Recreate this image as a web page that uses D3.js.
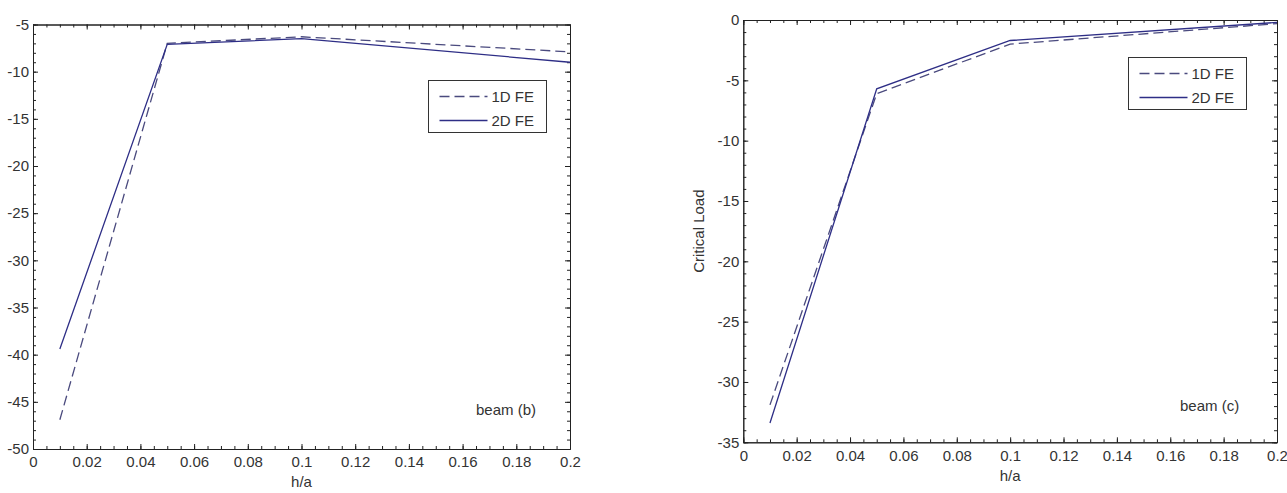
<!DOCTYPE html>
<html>
<head>
<meta charset="utf-8">
<script src="https://cdn.jsdelivr.net/npm/d3@7"></script>
<style>
  body { margin: 0; background: #fff; }
  svg { display: block; }
  .axis text { font-family: "Liberation Sans", Arial, sans-serif; font-size: 15px; fill: #333; }
  .axis .domain, .axis line { stroke: #222; }
  .lbl { font-family: "Liberation Sans", Arial, sans-serif; font-size: 15px; fill: #333; }
</style>
</head>
<body>
<div id="chart"></div>
<script>
// h/a values
const hOverA = [0.01, 0.05, 0.1, 0.2];
// beam (b)
const beamB1D = [-46.9, -7.0, -6.3, -7.9];
const beamB2D = [-39.4, -7.1, -6.5, -9.0];
// beam (c)
const beamC1D = [-31.9, -6.1, -2.0, -0.3];
const beamC2D = [-33.4, -5.7, -1.7, -0.2];

const xTicks = [0, 0.02, 0.04, 0.06, 0.08, 0.1, 0.12, 0.14, 0.16, 0.18, 0.2];
const bTicks = [-5, -10, -15, -20, -25, -30, -35, -40, -45, -50];
const cTicks = [0, -5, -10, -15, -20, -25, -30, -35];
const seriesNames = ["1D FE", "2D FE"];

const W = 1287, H = 493;
const svg = d3.select("#chart").append("svg").attr("width", W).attr("height", H);

const fmtX = d => String(+d.toFixed(2));
const fmtY = d => String(d);

function panel(cfg) {
  const x = d3.scaleLinear().domain([0, 0.2]).range([cfg.left, cfg.right]);
  const y = d3.scaleLinear().domain(cfg.yDomain).range([cfg.bottom, cfg.top]);
  const g = svg.append("g");

  const xMinor = d3.range(0, 0.2001, 0.005);
  const yMinor = d3.range(cfg.yDomain[0], cfg.yDomain[1] + 0.001, 1);

  // minor ticks on all four sides
  const minor = [
    [d3.axisBottom(x).tickValues(xMinor), `translate(0,${cfg.bottom})`],
    [d3.axisTop(x).tickValues(xMinor), `translate(0,${cfg.top})`],
    [d3.axisLeft(y).tickValues(yMinor), `translate(${cfg.left},0)`],
    [d3.axisRight(y).tickValues(yMinor), `translate(${cfg.right},0)`]
  ];
  minor.forEach(([ax, tr]) => {
    g.append("g").attr("class", "axis").attr("transform", tr)
      .call(ax.tickSize(-3).tickSizeOuter(0).tickFormat(""));
  });

  // major ticks + labels
  g.append("g").attr("class", "axis").attr("transform", `translate(0,${cfg.bottom})`)
    .call(d3.axisBottom(x).tickValues(xTicks).tickSize(-5).tickSizeOuter(0).tickPadding(cfg.xPad).tickFormat(fmtX));
  g.append("g").attr("class", "axis").attr("transform", `translate(0,${cfg.top})`)
    .call(d3.axisTop(x).tickValues(xTicks).tickSize(-5).tickSizeOuter(0).tickFormat(""));
  g.append("g").attr("class", "axis").attr("transform", `translate(${cfg.left},0)`)
    .call(d3.axisLeft(y).tickValues(cfg.yTicks).tickSize(-5).tickSizeOuter(0).tickPadding(4).tickFormat(fmtY));
  g.append("g").attr("class", "axis").attr("transform", `translate(${cfg.right},0)`)
    .call(d3.axisRight(y).tickValues(cfg.yTicks).tickSize(-5).tickSizeOuter(0).tickFormat(""));

  g.selectAll(".axis text").attr("font-size", null).attr("font-family", null);

  const line = d3.line().x((d, i) => x(hOverA[i])).y(d => y(d));

  g.append("path").datum(cfg.s1)
    .attr("d", line).attr("fill", "none")
    .attr("stroke", "#4a4a7e").attr("stroke-width", 1.3).attr("stroke-dasharray", "10,5");
  g.append("path").datum(cfg.s2)
    .attr("d", line).attr("fill", "none")
    .attr("stroke", "#2e2e86").attr("stroke-width", 1.3);

  // legend
  const lg = g.append("g").attr("transform", `translate(${cfg.legX},${cfg.legY})`);
  lg.append("rect").attr("width", 118).attr("height", 52)
    .attr("fill", "#fff").attr("stroke", "#333").attr("stroke-width", 1);
  seriesNames.forEach((name, i) => {
    const yy = 16 + i * 24;
    lg.append("line").attr("x1", 11).attr("x2", 59).attr("y1", yy).attr("y2", yy)
      .attr("stroke", i === 0 ? "#4a4a7e" : "#2e2e86").attr("stroke-width", 1.3)
      .attr("stroke-dasharray", i === 0 ? "10,5" : null);
    lg.append("text").attr("class", "lbl").attr("x", 63).attr("y", yy).attr("dy", "0.35em").text(name);
  });

  // annotation
  g.append("text").attr("class", "lbl").attr("x", cfg.noteX).attr("y", cfg.noteY)
    .attr("dy", "0.35em").text(cfg.note);

  // axis labels
  g.append("text").attr("class", "lbl").attr("text-anchor", "middle")
    .attr("x", (cfg.left + cfg.right) / 2).attr("y", cfg.xLabelY).attr("dy", "0.35em").text("h/a");
  g.append("text").attr("class", "lbl").attr("text-anchor", "middle")
    .attr("transform", `translate(${cfg.yLabelX},${(cfg.top + cfg.bottom) / 2}) rotate(-90)`)
    .text("Critical Load");
}

panel({
  left: 33, right: 570, top: 24.5, bottom: 449,
  yDomain: [-50, -5], yTicks: bTicks, xPad: 7,
  s1: beamB1D, s2: beamB2D,
  legX: 428.5, legY: 80.5,
  note: "beam (b)", noteX: 476, noteY: 410,
  xLabelY: 482, yLabelX: -1
});

panel({
  left: 743.3, right: 1277, top: 20, bottom: 442.3,
  yDomain: [-35, 0], yTicks: cTicks, xPad: 8,
  s1: beamC1D, s2: beamC2D,
  legX: 1128.5, legY: 57.5,
  note: "beam (c)", noteX: 1180, noteY: 406,
  xLabelY: 476, yLabelX: 704
});
</script>
</body>
</html>
